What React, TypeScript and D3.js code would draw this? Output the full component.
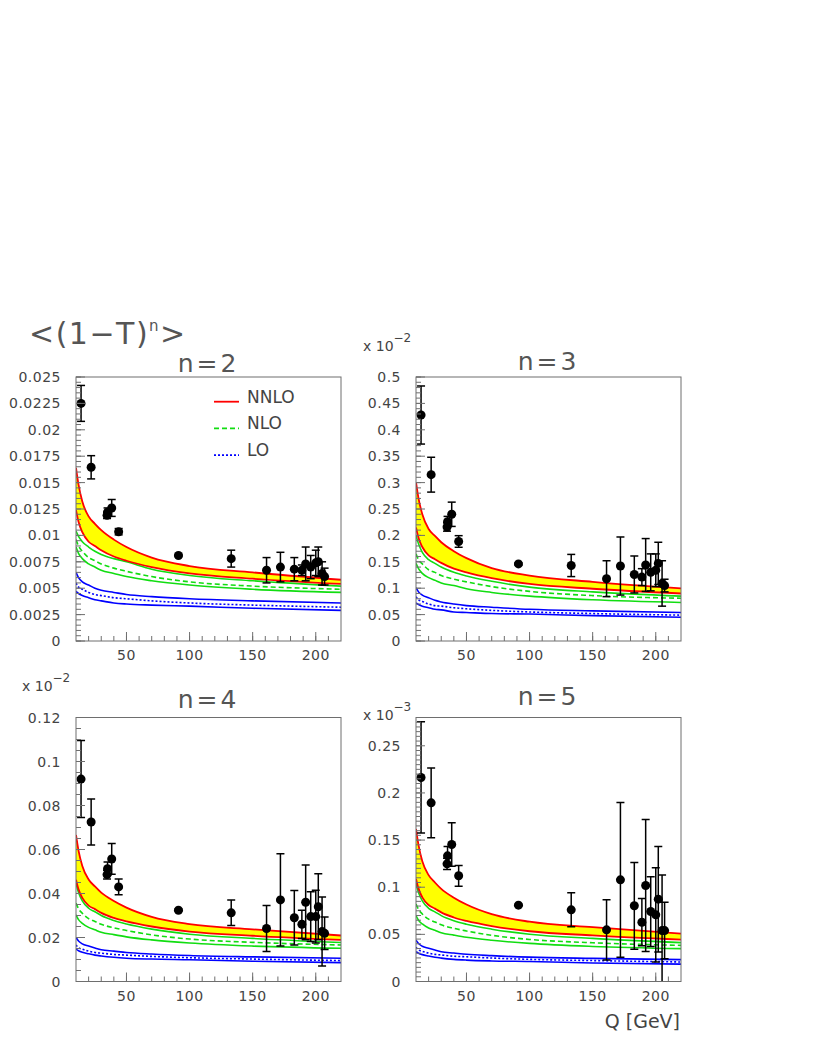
import React from "react";
import * as d3 from "d3";

const qGrid = [10, 12, 15, 20, 25, 30, 40, 50, 70, 100, 150, 220];
// centre-of-mass energies of the data points
const qData = [14, 22, 34.6, 35, 38.3, 43.8, 91.2, 133, 161, 172, 183, 189, 192, 196, 200, 202, 205, 207];

// n=2
const nnloHi2 = [0.0164, 0.0148, 0.0132, 0.0118, 0.0111, 0.0105, 0.0096, 0.0089, 0.0079, 0.0071, 0.0065, 0.0058];
const nnloLo2 = [0.0124, 0.0113, 0.0103, 0.0094, 0.009, 0.0086, 0.008, 0.0076, 0.007, 0.0064, 0.0059, 0.0054];
const nloHi2 = [0.0104, 0.0099, 0.0094, 0.0089, 0.0085, 0.0082, 0.0078, 0.0075, 0.0068, 0.0062, 0.0057, 0.0052];
const nlo2 = [0.0096, 0.009, 0.0085, 0.0079, 0.0076, 0.0073, 0.0069, 0.0066, 0.0061, 0.0056, 0.0052, 0.0049];
const nloLo2 = [0.0089, 0.0083, 0.0078, 0.0073, 0.007, 0.0067, 0.0064, 0.0061, 0.0057, 0.0053, 0.0049, 0.0046];
const loHi2 = [0.0065, 0.006, 0.0056, 0.0053, 0.005, 0.0048, 0.0046, 0.0044, 0.0042, 0.004, 0.0038, 0.0036];
const lo2 = [0.0055, 0.0051, 0.0049, 0.0046, 0.0044, 0.0043, 0.0041, 0.004, 0.0038, 0.0036, 0.0034, 0.0032];
const loLo2 = [0.0047, 0.0045, 0.0043, 0.0041, 0.0039, 0.0038, 0.0036, 0.0035, 0.0034, 0.0033, 0.0031, 0.0029];
const mean2 = [0.0225, 0.01645, 0.0119, 0.0122, 0.0126, 0.01035, 0.0081, 0.0078, 0.0067, 0.007, 0.0068, 0.0067, 0.0073, 0.007, 0.0074, 0.0075, 0.0064, 0.0061];
const err2 = [0.0017, 0.0011, 0.0003, 0.0004, 0.0008, 0.0003, 0.0001, 0.0008, 0.0012, 0.0014, 0.0011, 0.0005, 0.0016, 0.0011, 0.0012, 0.0014, 0.0011, 0.0008];
const ticks2 = [0, 0.0025, 0.005, 0.0075, 0.01, 0.0125, 0.015, 0.0175, 0.02, 0.0225, 0.025];

// n=3 (x 10^-2)
const nnloHi3 = [0.301, 0.27, 0.24, 0.212, 0.199, 0.187, 0.17, 0.157, 0.138, 0.124, 0.112, 0.0996];
const nnloLo3 = [0.215, 0.195, 0.178, 0.162, 0.155, 0.148, 0.137, 0.13, 0.119, 0.108, 0.099, 0.09];
const nloHi3 = [0.2, 0.184, 0.168, 0.154, 0.147, 0.14, 0.13, 0.123, 0.113, 0.102, 0.093, 0.085];
const nlo3 = [0.165, 0.154, 0.146, 0.135, 0.13, 0.124, 0.117, 0.112, 0.103, 0.094, 0.086, 0.081];
const nloLo3 = [0.147, 0.137, 0.128, 0.12, 0.115, 0.11, 0.105, 0.099, 0.092, 0.085, 0.078, 0.073];
const loHi3 = [0.101, 0.093, 0.087, 0.082, 0.077, 0.074, 0.07, 0.067, 0.064, 0.06, 0.057, 0.054];
const lo3 = [0.084, 0.078, 0.075, 0.07, 0.067, 0.066, 0.063, 0.061, 0.058, 0.055, 0.052, 0.049];
const loLo3 = [0.072, 0.069, 0.066, 0.063, 0.06, 0.059, 0.055, 0.054, 0.052, 0.051, 0.048, 0.045];
const mean3 = [0.428, 0.315, 0.216, 0.226, 0.24, 0.1885, 0.146, 0.143, 0.118, 0.142, 0.126, 0.121, 0.144, 0.13, 0.134, 0.147, 0.109, 0.105];
const err3 = [0.055, 0.033, 0.008, 0.01, 0.023, 0.011, 0.002, 0.021, 0.034, 0.055, 0.035, 0.016, 0.05, 0.035, 0.031, 0.04, 0.043, 0.012];
const ticks3 = [0, 0.05, 0.1, 0.15, 0.2, 0.25, 0.3, 0.35, 0.4, 0.45, 0.5];

// n=4 (x 10^-2)
const nnloHi4 = [0.0666, 0.0595, 0.0525, 0.0464, 0.0432, 0.0404, 0.0366, 0.0336, 0.0294, 0.0261, 0.0237, 0.0209];
const nnloLo4 = [0.0463, 0.0419, 0.038, 0.0345, 0.0329, 0.0312, 0.0289, 0.0273, 0.025, 0.0227, 0.0208, 0.0189];
const nloHi4 = [0.0447, 0.0405, 0.0367, 0.0333, 0.0317, 0.03, 0.0277, 0.0261, 0.0238, 0.0215, 0.0196, 0.0177];
const nlo4 = [0.0356, 0.0331, 0.031, 0.0286, 0.0273, 0.026, 0.0244, 0.0232, 0.0212, 0.0193, 0.0178, 0.0166];
const nloLo4 = [0.0303, 0.0281, 0.0264, 0.0246, 0.0235, 0.0224, 0.0213, 0.0203, 0.0189, 0.0175, 0.0161, 0.0151];
const loHi4 = [0.02, 0.0184, 0.0171, 0.0161, 0.0152, 0.0144, 0.0138, 0.0132, 0.0125, 0.0118, 0.0112, 0.0106];
const lo4 = [0.0166, 0.0154, 0.0147, 0.0138, 0.0132, 0.0129, 0.0123, 0.012, 0.0114, 0.0108, 0.0102, 0.0095];
const loLo4 = [0.0147, 0.014, 0.0133, 0.0126, 0.012, 0.0116, 0.011, 0.0106, 0.0102, 0.0099, 0.0092, 0.0086];
const mean4 = [0.092, 0.0725, 0.0486, 0.0513, 0.0557, 0.043, 0.0324, 0.0312, 0.0241, 0.0371, 0.029, 0.026, 0.036, 0.0295, 0.0295, 0.034, 0.0227, 0.0219];
const err4 = [0.0175, 0.0105, 0.002, 0.003, 0.007, 0.0036, 0.0005, 0.0058, 0.0105, 0.021, 0.0124, 0.0064, 0.017, 0.0113, 0.012, 0.015, 0.0157, 0.0074];
const ticks4 = [0, 0.02, 0.04, 0.06, 0.08, 0.1, 0.12];

// n=5 (x 10^-3)
const nnloHi5 = [0.1618, 0.1446, 0.1276, 0.1128, 0.105, 0.0982, 0.0889, 0.0816, 0.0714, 0.0634, 0.0576, 0.0508];
const nnloLo5 = [0.1088, 0.0985, 0.0893, 0.0811, 0.0773, 0.0733, 0.0679, 0.0642, 0.0588, 0.0533, 0.0489, 0.0444];
const nloHi5 = [0.1042, 0.0944, 0.0855, 0.0776, 0.0739, 0.0699, 0.0645, 0.0608, 0.0555, 0.0501, 0.0457, 0.0412];
const nlo5 = [0.0822, 0.0765, 0.0716, 0.0661, 0.0631, 0.0601, 0.0564, 0.0536, 0.049, 0.0446, 0.0411, 0.0383];
const nloLo5 = [0.07, 0.0649, 0.061, 0.0568, 0.0543, 0.0517, 0.0492, 0.0469, 0.0437, 0.0404, 0.0372, 0.0349];
const loHi5 = [0.0438, 0.0403, 0.0374, 0.0353, 0.0333, 0.0315, 0.0302, 0.0289, 0.0274, 0.0258, 0.0245, 0.0232];
const lo5 = [0.0362, 0.0336, 0.032, 0.0301, 0.0288, 0.0281, 0.0268, 0.0262, 0.0249, 0.0235, 0.0222, 0.0207];
const loLo5 = [0.0315, 0.03, 0.0285, 0.027, 0.0257, 0.0248, 0.0235, 0.0227, 0.0218, 0.0212, 0.0197, 0.0184];
const mean5 = [0.2164, 0.1895, 0.1248, 0.1333, 0.1453, 0.1121, 0.081, 0.076, 0.0548, 0.1078, 0.0803, 0.0629, 0.1018, 0.0742, 0.0707, 0.0873, 0.054, 0.054];
const err5 = [0.059, 0.037, 0.006, 0.01, 0.023, 0.011, 0.001, 0.018, 0.032, 0.082, 0.046, 0.025, 0.07, 0.037, 0.05, 0.056, 0.059, 0.03];
const ticks5 = [0, 0.05, 0.1, 0.15, 0.2, 0.25];

const xMajor = [50, 100, 150, 200];
const legendLabels = ["NNLO", "NLO", "LO"];

const FONT = "DejaVu Sans, Liberation Sans, sans-serif";
const TXT = "#444";
const RED = "#ff0000";
const GREEN = "#11dd11";
const BLUE = "#0000ff";

const panels = [
  { id: "p2", title: "n=2", left: 76, right: 341, top: 377, bottom: 641, titleY: 372, yMax: 0.025, minor: 0.0005,
    ticks: ticks2, exp: null, expPos: null, legend: true, labelY: 660,
    c: [nnloHi2, nnloLo2, nloHi2, nlo2, nloLo2, loHi2, lo2, loLo2], mean: mean2, err: err2 },
  { id: "p3", title: "n=3", left: 416, right: 681, top: 377, bottom: 641, titleY: 370, yMax: 0.5, minor: 0.01,
    ticks: ticks3, exp: "\u22122", expPos: [363, 351], legend: false, labelY: 660,
    c: [nnloHi3, nnloLo3, nloHi3, nlo3, nloLo3, loHi3, lo3, loLo3], mean: mean3, err: err3 },
  { id: "p4", title: "n=4", left: 76, right: 341, top: 717.5, bottom: 981.5, titleY: 708, yMax: 0.12, minor: 0.005,
    ticks: ticks4, exp: "\u22122", expPos: [22, 691], legend: false, labelY: 1001,
    c: [nnloHi4, nnloLo4, nloHi4, nlo4, nloLo4, loHi4, lo4, loLo4], mean: mean4, err: err4 },
  { id: "p5", title: "n=5", left: 416, right: 681, top: 717.5, bottom: 981.5, titleY: 705, yMax: 0.28, minor: 0.005,
    ticks: ticks5, exp: "\u22123", expPos: [363, 720], legend: false, labelY: 1001,
    c: [nnloHi5, nnloLo5, nloHi5, nlo5, nloLo5, loHi5, lo5, loLo5], mean: mean5, err: err5 },
];

function Panel({ p }: { p: any }) {
  const x = d3.scaleLinear().domain([10, 220]).range([p.left, p.right]);
  const y = d3.scaleLinear().domain([0, p.yMax]).range([p.bottom, p.top]);
  const line = d3
    .line<number>()
    .x((d, i) => x(qGrid[i]))
    .y((d) => y(d))
    .curve(d3.curveMonotoneX);
  const band = d3
    .area<number>()
    .x((d, i) => x(qGrid[i]))
    .y0((d, i) => y(p.c[1][i]))
    .y1((d) => y(d))
    .curve(d3.curveMonotoneX);
  const yMinor = d3.range(0, p.yMax + p.minor / 2, p.minor);
  const xMinor = d3.range(20, 220, 10);
  const [nnloHi, nnloLo, nloHi, nlo, nloLo, loHi, lo, loLo] = p.c;

  return (
    <g>
      <defs>
        <clipPath id={"clip-" + p.id}>
          <rect x={p.left} y={p.top} width={p.right - p.left} height={p.bottom - p.top} />
        </clipPath>
      </defs>
      <rect x={p.left} y={p.top} width={p.right - p.left} height={p.bottom - p.top} fill="#fff" />

      <g clipPath={`url(#clip-${p.id})`}>
        <path d={band(nnloHi) || ""} fill="#ffff00" />
        <path d={line(loHi) || ""} fill="none" stroke={BLUE} strokeWidth={1.6} />
        <path d={line(lo) || ""} fill="none" stroke={BLUE} strokeWidth={1.6} strokeDasharray="2,2" />
        <path d={line(loLo) || ""} fill="none" stroke={BLUE} strokeWidth={1.6} />
        <path d={line(nloHi) || ""} fill="none" stroke={GREEN} strokeWidth={1.6} />
        <path d={line(nlo) || ""} fill="none" stroke={GREEN} strokeWidth={1.6} strokeDasharray="5,3" />
        <path d={line(nloLo) || ""} fill="none" stroke={GREEN} strokeWidth={1.6} />
        <path d={line(nnloHi) || ""} fill="none" stroke={RED} strokeWidth={1.8} />
        <path d={line(nnloLo) || ""} fill="none" stroke={RED} strokeWidth={1.8} />

        {qData.map((q, i) => {
          const cx = x(q);
          const y1 = y(p.mean[i] + p.err[i]);
          const y0 = y(p.mean[i] - p.err[i]);
          return (
            <g key={i} stroke="#000" strokeWidth={1.5}>
              <line x1={cx} x2={cx} y1={y1} y2={y0} />
              <line x1={cx - 4} x2={cx + 4} y1={y1} y2={y1} />
              <line x1={cx - 4} x2={cx + 4} y1={y0} y2={y0} />
              <circle cx={cx} cy={y(p.mean[i])} r={4.5} fill="#000" stroke="none" />
            </g>
          );
        })}
      </g>

      {/* frame and ticks */}
      <rect x={p.left} y={p.top} width={p.right - p.left} height={p.bottom - p.top} fill="none" stroke="#6e6e6e" strokeWidth={1} />
      {yMinor.map((v, i) => (
        <line key={"ym" + i} x1={p.left} x2={p.left + 5} y1={y(v)} y2={y(v)} stroke="#6e6e6e" />
      ))}
      {p.ticks.map((v: number, i: number) => (
        <line key={"yM" + i} x1={p.left} x2={p.left + 9} y1={y(v)} y2={y(v)} stroke="#6e6e6e" />
      ))}
      {xMinor.map((v, i) => (
        <line key={"xm" + i} x1={x(v)} x2={x(v)} y1={p.bottom} y2={p.bottom - 5} stroke="#6e6e6e" />
      ))}
      {xMajor.map((v, i) => (
        <line key={"xM" + i} x1={x(v)} x2={x(v)} y1={p.bottom} y2={p.bottom - 9} stroke="#6e6e6e" />
      ))}

      <g fontFamily={FONT} fill={TXT} fontSize={14} letterSpacing={0.5}>
        {p.ticks.map((v: number, i: number) => (
          <text key={"yl" + i} x={p.left - 15} y={y(v) + 5} textAnchor="end">
            {String(v)}
          </text>
        ))}
        {xMajor.map((v, i) => (
          <text key={"xl" + i} x={x(v)} y={p.labelY} textAnchor="middle">
            {String(v)}
          </text>
        ))}
      </g>

      <text x={(p.left + p.right) / 2} y={p.titleY} textAnchor="middle" fontFamily={FONT} fontSize={25} letterSpacing={3} fill="#555">
        {p.title}
      </text>

      {p.exp && (
        <text x={p.expPos[0]} y={p.expPos[1]} fontFamily={FONT} fontSize={14} fill={TXT}>
          x 10
          <tspan dy={-9} fontSize={12}>
            {p.exp}
          </tspan>
        </text>
      )}

      {p.legend && (
        <g fontFamily={FONT} fontSize={17} fill={TXT}>
          {legendLabels.map((lab, i) => {
            const ly = 401.7 + i * 26.7;
            const col = [RED, GREEN, BLUE][i];
            const dash = ["", "5,3", "2,2"][i];
            return (
              <g key={lab}>
                <line x1={214} x2={239} y1={ly} y2={ly} stroke={col} strokeWidth={1.8} strokeDasharray={dash || undefined} />
                <text x={247} y={ly + 1}>
                  {lab}
                </text>
              </g>
            );
          })}
        </g>
      )}
    </g>
  );
}

export default function App() {
  return (
    <svg width={817} height={1058} style={{ position: "absolute", left: 0, top: 0, background: "#fff" }}>
      <rect width={817} height={1058} fill="#fff" />
      <text x={29} y={344} fontFamily={FONT} fontSize={30} letterSpacing={1.5} fill="#555">
        {"<(1\u2212T)"}
        <tspan dy={-13} fontSize={15}>n</tspan>
        <tspan dy={13}>{">"}</tspan>
      </text>
      {panels.map((p) => (
        <Panel key={p.id} p={p} />
      ))}
      <text x={680} y={1028} textAnchor="end" fontFamily={FONT} fontSize={19} fill={TXT}>
        Q [GeV]
      </text>
    </svg>
  );
}
